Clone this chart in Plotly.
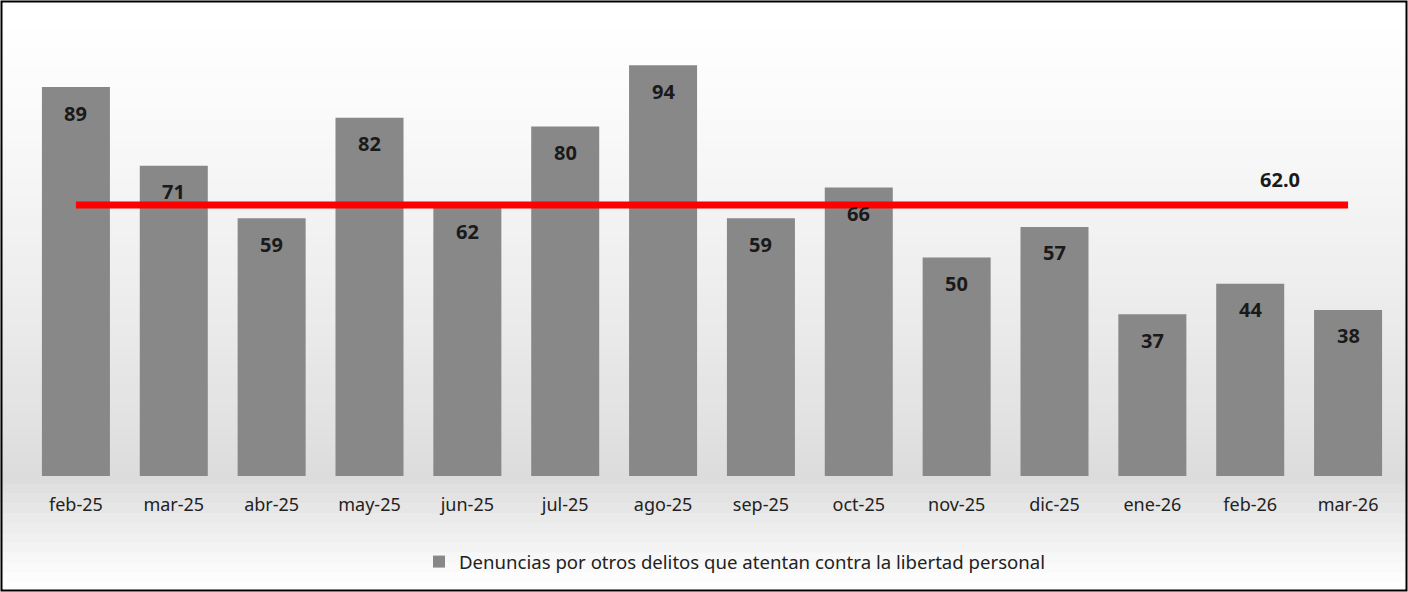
import plotly.graph_objects as go

categories = ["feb-25", "mar-25", "abr-25", "may-25", "jun-25", "jul-25", "ago-25",
              "sep-25", "oct-25", "nov-25", "dic-25", "ene-26", "feb-26", "mar-26"]
values = [89, 71, 59, 82, 62, 80, 94, 59, 66, 50, 57, 37, 44, 38]
average = 62.0
series_name = "Denuncias por otros delitos que atentan contra la libertad personal"

W, H = 1408, 592
ml, mr, mt, mb = 27, 11, 39, 116
pw, ph = W - ml - mr, H - mt - mb

def px_x(p):
    return (p - ml) / pw

def px_y(p):
    return (H - mb - p) / ph

fig = go.Figure()

fig.add_trace(go.Bar(
    x=categories, y=values, name=series_name,
    marker=dict(color="#888888", line=dict(width=0)),
    width=0.695, showlegend=True,
    hoverinfo="x+y",
))

fig.add_trace(go.Scatter(
    x=categories, y=[average] * len(categories), mode="lines",
    line=dict(color="#ff0000", width=7), showlegend=False, hoverinfo="skip",
))

annotations = []
for c, v in zip(categories, values):
    annotations.append(dict(x=c, y=v, text=f"<b>{v}</b>", showarrow=False,
                            yshift=-26, font=dict(family="Noto Sans", size=20, color="#1a1a1a")))
annotations.append(dict(x=12.3, y=average, text=f"<b>{average:.1f}</b>", showarrow=False,
                        yshift=26, font=dict(family="Noto Sans", size=20, color="#1a1a1a")))

# background gradient bands (styling)
shapes = []
n = 60
def bg_color(py):
    if py < 476:
        t = py / 476
        g = 255 - int(35 * t ** 1.3)
    else:
        t = (py - 476) / (592 - 476)
        g = 220 + int(35 * min(1, t * 1.1))
    return f"rgb({g},{g},{g})"

step = H / n
for i in range(n):
    y0 = i * step
    y1 = (i + 1) * step + 0.5
    shapes.append(dict(type="rect", xref="paper", yref="paper",
                       x0=px_x(0), x1=px_x(W), y0=px_y(y1), y1=px_y(y0),
                       fillcolor=bg_color((y0 + y1) / 2), line=dict(width=0), layer="below"))

shapes.append(dict(type="rect", xref="paper", yref="paper",
                   x0=px_x(1.5), x1=px_x(W - 1.5), y0=px_y(H - 1.5), y1=px_y(1.5),
                   line=dict(color="#000000", width=2), layer="above"))

fig.update_layout(
    width=W, height=H,
    margin=dict(l=ml, r=mr, t=mt, b=mb),
    paper_bgcolor="#ffffff", plot_bgcolor="rgba(0,0,0,0)",
    font=dict(family="Noto Sans", color="#222222"),
    xaxis=dict(type="category", range=[-0.5, 13.5], showgrid=False, zeroline=False,
               showline=False, ticks="", tickfont=dict(size=18, color="#222222"),
               ticklabelstandoff=16),
    yaxis=dict(range=[0, 100], visible=False, showgrid=False, zeroline=False),
    legend=dict(orientation="h", x=px_x(735), xanchor="center", y=px_y(562), yanchor="middle",
                font=dict(size=18.6, color="#222222"), bgcolor="rgba(0,0,0,0)"),
    annotations=annotations,
    shapes=shapes,
)

fig.write_html("out.html", config={"displayModeBar": False},
               post_script="document.body.style.margin='0';document.body.style.overflow='hidden';")
